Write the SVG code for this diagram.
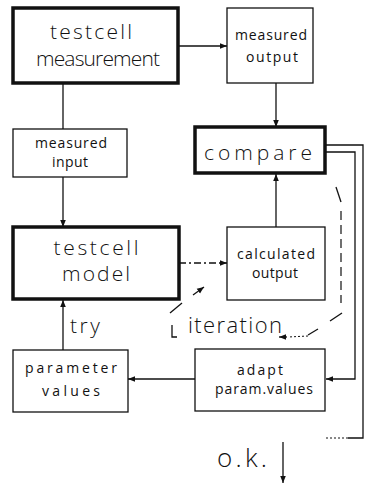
<svg xmlns="http://www.w3.org/2000/svg" width="367" height="484" viewBox="0 0 367 484">
<style>
.thick{fill:#fff;stroke:#111;stroke-width:3.5}
.thin{fill:#fff;stroke:#111;stroke-width:1.3}
.big{font-family:"Open Sans","Liberation Sans",Arial,sans-serif;font-size:21px;font-weight:300;fill:#111;text-anchor:middle}
.small{font-family:"Open Sans","Liberation Sans",Arial,sans-serif;font-size:14px;fill:#111;text-anchor:middle}
.lbl{font-family:"Open Sans","Liberation Sans",Arial,sans-serif;font-weight:300;fill:#111}
.ln{fill:none;stroke:#111;stroke-width:1.3}
.dash{fill:none;stroke:#111;stroke-width:1.2;stroke-dasharray:9 5}
.dot{fill:none;stroke:#111;stroke-width:1;stroke-dasharray:2 2}
</style>
<defs>
<marker id="ah" viewBox="0 0 10 10" refX="10" refY="5" markerWidth="7" markerHeight="7" orient="auto" markerUnits="userSpaceOnUse">
<path d="M0,1 L10,5 L0,9 Z" fill="#111"/>
</marker>
</defs>
<rect width="367" height="484" fill="#fff"/>

<g id="connectors">
<line class="ln" x1="178" y1="46" x2="227" y2="46" marker-end="url(#ah)"/>
<line class="ln" x1="63" y1="83" x2="63" y2="129"/>
<line class="ln" x1="63" y1="177" x2="63" y2="227" marker-end="url(#ah)"/>
<line class="ln" x1="276" y1="83" x2="276" y2="127" marker-end="url(#ah)"/>
<line class="ln" x1="276" y1="227" x2="276" y2="174" marker-end="url(#ah)"/>
<line class="ln" x1="179" y1="263" x2="227" y2="263" stroke-dasharray="7 3 2 3" marker-end="url(#ah)"/>
<line class="ln" x1="63" y1="350" x2="63" y2="300" marker-end="url(#ah)"/>
<line class="ln" x1="195" y1="379" x2="128" y2="379" marker-end="url(#ah)"/>
<polyline class="ln" points="325,152 355,152 355,379 326,379" marker-end="url(#ah)"/>
<polyline class="ln" points="325,145 363,145 363,438 348,438"/>
<line class="dot" x1="348" y1="438" x2="325" y2="438"/>
<line class="ln" x1="283" y1="442" x2="283" y2="483" marker-end="url(#ah)"/>
<line class="ln" x1="336" y1="187" x2="341" y2="202"/>
<line class="dash" x1="341" y1="211" x2="341" y2="303"/>
<line class="ln" x1="342" y1="313" x2="330" y2="321"/>
<line class="ln" x1="318" y1="329" x2="308" y2="335"/>
<line class="dot" x1="308" y1="336" x2="288" y2="337"/>
<line class="ln" x1="287" y1="337" x2="279" y2="337" marker-end="url(#ah)" stroke-width="1"/>
<polyline class="ln" points="172,325 172,337 177,337"/>
<line class="ln" x1="170" y1="313" x2="182" y2="303"/>
<line class="ln" x1="193" y1="295" x2="204" y2="287" marker-end="url(#ah)" stroke-width="1"/>
<text class="lbl" x="70" y="333" font-size="21" textLength="30" lengthAdjust="spacing">try</text>
<text class="lbl" x="188" y="333" font-size="22" textLength="94" lengthAdjust="spacing">iteration</text>
<text class="lbl" x="217" y="467" font-size="26" textLength="50" lengthAdjust="spacing">o.k.</text>
</g>

<g id="testcell-measurement">
<rect class="thick" x="13" y="8" width="165" height="75"/>
<text class="big" x="91" y="39" font-size="19.5" textLength="82" lengthAdjust="spacing">testcell</text>
<text class="big" x="98" y="66" font-size="19.5" textLength="124" lengthAdjust="spacing">measurement</text>
</g>

<g id="measured-output">
<rect class="thin" x="227" y="8" width="86" height="75"/>
<text class="small" x="271" y="40" textLength="72" lengthAdjust="spacing">measured</text>
<text class="small" x="272" y="62" textLength="52" lengthAdjust="spacing">output</text>
</g>

<g id="measured-input">
<rect class="thin" x="13" y="129" width="114" height="48"/>
<text class="small" x="71" y="148" textLength="72" lengthAdjust="spacing">measured</text>
<text class="small" x="70" y="167" textLength="36" lengthAdjust="spacing">input</text>
</g>

<g id="compare">
<rect class="thick" x="195" y="127" width="130" height="46"/>
<text class="big" x="258" y="160" font-size="26" textLength="108" lengthAdjust="spacing">compare</text>
</g>

<g id="testcell-model">
<rect class="thick" x="13" y="227" width="166" height="72"/>
<text class="big" x="96" y="255" font-size="23" textLength="85" lengthAdjust="spacing">testcell</text>
<text class="big" x="96" y="281" font-size="23" textLength="68" lengthAdjust="spacing">model</text>
</g>

<g id="calculated-output">
<rect class="thin" x="227" y="227" width="98" height="73"/>
<text class="small" x="276" y="259" textLength="78" lengthAdjust="spacing">calculated</text>
<text class="small" x="275" y="278" textLength="46" lengthAdjust="spacing">output</text>
</g>

<g id="parameter-values">
<rect class="thin" x="13" y="350" width="115" height="62"/>
<text class="small" x="71" y="373" font-size="17" textLength="92" lengthAdjust="spacing">parameter</text>
<text class="small" x="71" y="396" font-size="17" textLength="58" lengthAdjust="spacing">values</text>
</g>

<g id="adapt-param-values">
<rect class="thin" x="195" y="349" width="130" height="62"/>
<text class="small" x="260" y="375" font-size="16" textLength="46" lengthAdjust="spacing">adapt</text>
<text class="small" x="264" y="394" font-size="16" textLength="98" lengthAdjust="spacing">param.values</text>
</g>
</svg>
